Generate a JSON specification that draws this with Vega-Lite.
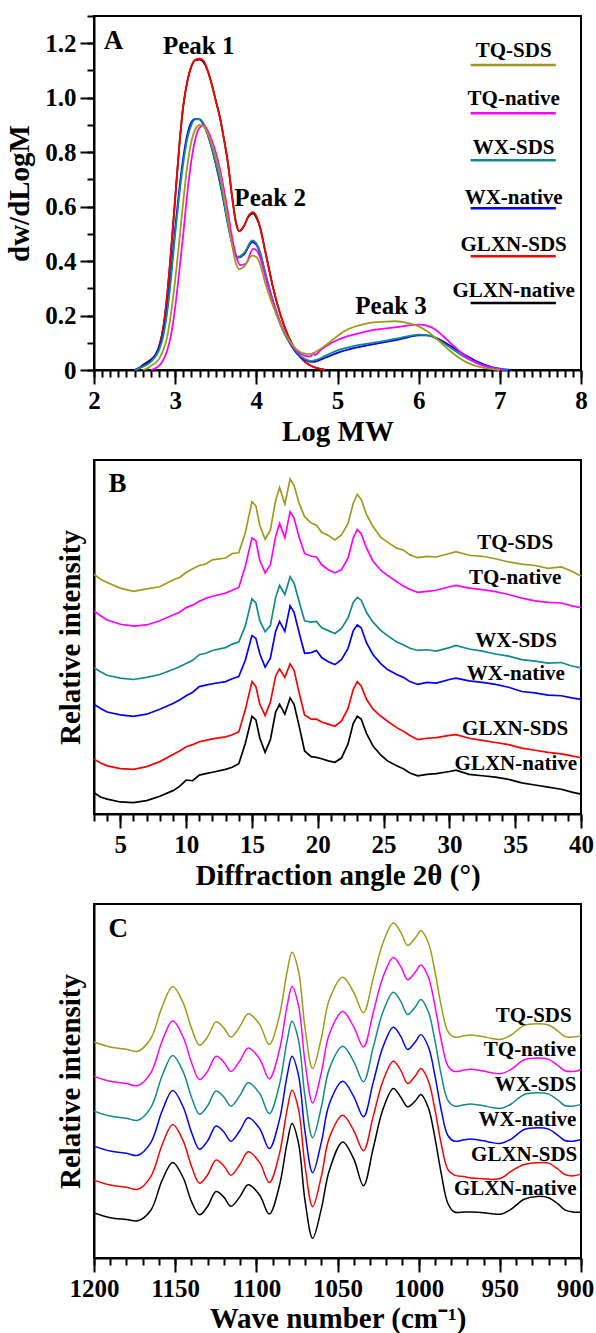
{
"$schema": "https://vega.github.io/schema/vega-lite/v6.json",
"padding": {"left": 4, "top": 14, "right": 4, "bottom": 0},
"spacing": 12,
"config": {
 "font": "Liberation Serif",
 "view": {"stroke": "#000", "strokeWidth": 2},
 "axis": {"grid": false, "domainColor": "#000", "domainWidth": 2, "tickColor": "#000", "tickWidth": 2, "labelFont": "Liberation Serif", "labelFontSize": 25, "labelFontWeight": "bold", "labelColor": "#000", "titleFont": "Liberation Serif", "titleFontSize": 29, "titleFontWeight": "bold", "titleColor": "#000", "labelOverlap": false, "labelFlush": false, "labelBound": false},
 "text": {"font": "Liberation Serif", "fontWeight": "bold", "color": "#000"}
},
"datasets": {
"A": [
{"s":"GN","x":2.5,"y":0},{"s":"GN","x":2.55,"y":0.006},{"s":"GN","x":2.6,"y":0.018},{"s":"GN","x":2.7,"y":0.038},{"s":"GN","x":2.75,"y":0.052},{"s":"GN","x":2.8,"y":0.085},{"s":"GN","x":2.85,"y":0.15},{"s":"GN","x":2.9,"y":0.27},{"s":"GN","x":2.95,"y":0.44},{"s":"GN","x":3.0,"y":0.63},{"s":"GN","x":3.05,"y":0.82},{"s":"GN","x":3.1,"y":0.97},{"s":"GN","x":3.15,"y":1.06},{"s":"GN","x":3.2,"y":1.115},{"s":"GN","x":3.25,"y":1.138},{"s":"GN","x":3.3,"y":1.14},{"s":"GN","x":3.35,"y":1.13},{"s":"GN","x":3.4,"y":1.10},{"s":"GN","x":3.45,"y":1.05},{"s":"GN","x":3.5,"y":0.99},{"s":"GN","x":3.55,"y":0.93},{"s":"GN","x":3.6,"y":0.85},{"s":"GN","x":3.65,"y":0.76},{"s":"GN","x":3.7,"y":0.64},{"s":"GN","x":3.75,"y":0.54},{"s":"GN","x":3.79,"y":0.51},{"s":"GN","x":3.85,"y":0.53},{"s":"GN","x":3.9,"y":0.562},{"s":"GN","x":3.96,"y":0.575},{"s":"GN","x":4.0,"y":0.56},{"s":"GN","x":4.05,"y":0.52},{"s":"GN","x":4.1,"y":0.45},{"s":"GN","x":4.15,"y":0.38},{"s":"GN","x":4.2,"y":0.31},{"s":"GN","x":4.3,"y":0.20},{"s":"GN","x":4.4,"y":0.12},{"s":"GN","x":4.5,"y":0.065},{"s":"GN","x":4.6,"y":0.03},{"s":"GN","x":4.7,"y":0.012},{"s":"GN","x":4.8,"y":0.003},{"s":"GN","x":4.85,"y":0},
{"s":"GS","x":2.5,"y":0},{"s":"GS","x":2.55,"y":0.005},{"s":"GS","x":2.6,"y":0.015},{"s":"GS","x":2.7,"y":0.035},{"s":"GS","x":2.75,"y":0.05},{"s":"GS","x":2.8,"y":0.082},{"s":"GS","x":2.85,"y":0.15},{"s":"GS","x":2.9,"y":0.27},{"s":"GS","x":2.95,"y":0.44},{"s":"GS","x":3.0,"y":0.63},{"s":"GS","x":3.05,"y":0.82},{"s":"GS","x":3.1,"y":0.97},{"s":"GS","x":3.15,"y":1.06},{"s":"GS","x":3.2,"y":1.115},{"s":"GS","x":3.25,"y":1.14},{"s":"GS","x":3.3,"y":1.143},{"s":"GS","x":3.35,"y":1.135},{"s":"GS","x":3.4,"y":1.10},{"s":"GS","x":3.45,"y":1.05},{"s":"GS","x":3.5,"y":0.99},{"s":"GS","x":3.55,"y":0.93},{"s":"GS","x":3.6,"y":0.85},{"s":"GS","x":3.65,"y":0.76},{"s":"GS","x":3.7,"y":0.64},{"s":"GS","x":3.75,"y":0.54},{"s":"GS","x":3.79,"y":0.51},{"s":"GS","x":3.85,"y":0.53},{"s":"GS","x":3.9,"y":0.565},{"s":"GS","x":3.96,"y":0.58},{"s":"GS","x":4.0,"y":0.565},{"s":"GS","x":4.05,"y":0.52},{"s":"GS","x":4.1,"y":0.45},{"s":"GS","x":4.15,"y":0.38},{"s":"GS","x":4.2,"y":0.31},{"s":"GS","x":4.3,"y":0.20},{"s":"GS","x":4.4,"y":0.12},{"s":"GS","x":4.5,"y":0.065},{"s":"GS","x":4.6,"y":0.03},{"s":"GS","x":4.7,"y":0.012},{"s":"GS","x":4.8,"y":0.003},{"s":"GS","x":4.85,"y":0},
{"s":"WN","x":2.5,"y":0},{"s":"WN","x":2.55,"y":0.006},{"s":"WN","x":2.6,"y":0.015},{"s":"WN","x":2.7,"y":0.035},{"s":"WN","x":2.8,"y":0.08},{"s":"WN","x":2.85,"y":0.13},{"s":"WN","x":2.9,"y":0.22},{"s":"WN","x":2.95,"y":0.36},{"s":"WN","x":3.0,"y":0.52},{"s":"WN","x":3.05,"y":0.66},{"s":"WN","x":3.1,"y":0.78},{"s":"WN","x":3.15,"y":0.865},{"s":"WN","x":3.2,"y":0.91},{"s":"WN","x":3.25,"y":0.922},{"s":"WN","x":3.3,"y":0.92},{"s":"WN","x":3.35,"y":0.90},{"s":"WN","x":3.4,"y":0.865},{"s":"WN","x":3.45,"y":0.815},{"s":"WN","x":3.5,"y":0.755},{"s":"WN","x":3.55,"y":0.69},{"s":"WN","x":3.6,"y":0.615},{"s":"WN","x":3.65,"y":0.535},{"s":"WN","x":3.7,"y":0.465},{"s":"WN","x":3.77,"y":0.413},{"s":"WN","x":3.85,"y":0.425},{"s":"WN","x":3.95,"y":0.47},{"s":"WN","x":4.0,"y":0.46},{"s":"WN","x":4.05,"y":0.425},{"s":"WN","x":4.1,"y":0.365},{"s":"WN","x":4.2,"y":0.255},{"s":"WN","x":4.3,"y":0.165},{"s":"WN","x":4.4,"y":0.105},{"s":"WN","x":4.5,"y":0.06},{"s":"WN","x":4.6,"y":0.037},{"s":"WN","x":4.67,"y":0.03},{"s":"WN","x":4.75,"y":0.033},{"s":"WN","x":4.85,"y":0.045},{"s":"WN","x":5.0,"y":0.063},{"s":"WN","x":5.2,"y":0.08},{"s":"WN","x":5.4,"y":0.092},{"s":"WN","x":5.6,"y":0.103},{"s":"WN","x":5.8,"y":0.115},{"s":"WN","x":6.0,"y":0.127},{"s":"WN","x":6.1,"y":0.127},{"s":"WN","x":6.2,"y":0.12},{"s":"WN","x":6.3,"y":0.105},{"s":"WN","x":6.4,"y":0.087},{"s":"WN","x":6.5,"y":0.068},{"s":"WN","x":6.6,"y":0.05},{"s":"WN","x":6.7,"y":0.034},{"s":"WN","x":6.8,"y":0.021},{"s":"WN","x":6.9,"y":0.011},{"s":"WN","x":7.0,"y":0.005},{"s":"WN","x":7.1,"y":0.001},{"s":"WN","x":7.15,"y":0},
{"s":"WS","x":2.5,"y":0},{"s":"WS","x":2.55,"y":0.005},{"s":"WS","x":2.6,"y":0.012},{"s":"WS","x":2.7,"y":0.03},{"s":"WS","x":2.8,"y":0.072},{"s":"WS","x":2.85,"y":0.12},{"s":"WS","x":2.9,"y":0.21},{"s":"WS","x":2.95,"y":0.34},{"s":"WS","x":3.0,"y":0.50},{"s":"WS","x":3.05,"y":0.64},{"s":"WS","x":3.1,"y":0.76},{"s":"WS","x":3.15,"y":0.85},{"s":"WS","x":3.2,"y":0.90},{"s":"WS","x":3.25,"y":0.92},{"s":"WS","x":3.3,"y":0.921},{"s":"WS","x":3.35,"y":0.905},{"s":"WS","x":3.4,"y":0.87},{"s":"WS","x":3.45,"y":0.82},{"s":"WS","x":3.5,"y":0.76},{"s":"WS","x":3.55,"y":0.70},{"s":"WS","x":3.6,"y":0.62},{"s":"WS","x":3.65,"y":0.54},{"s":"WS","x":3.7,"y":0.47},{"s":"WS","x":3.77,"y":0.415},{"s":"WS","x":3.85,"y":0.43},{"s":"WS","x":3.95,"y":0.476},{"s":"WS","x":4.0,"y":0.465},{"s":"WS","x":4.05,"y":0.43},{"s":"WS","x":4.1,"y":0.37},{"s":"WS","x":4.2,"y":0.26},{"s":"WS","x":4.3,"y":0.17},{"s":"WS","x":4.4,"y":0.11},{"s":"WS","x":4.5,"y":0.065},{"s":"WS","x":4.6,"y":0.04},{"s":"WS","x":4.67,"y":0.033},{"s":"WS","x":4.75,"y":0.038},{"s":"WS","x":4.85,"y":0.052},{"s":"WS","x":5.0,"y":0.072},{"s":"WS","x":5.2,"y":0.088},{"s":"WS","x":5.4,"y":0.098},{"s":"WS","x":5.6,"y":0.108},{"s":"WS","x":5.8,"y":0.12},{"s":"WS","x":6.0,"y":0.13},{"s":"WS","x":6.1,"y":0.128},{"s":"WS","x":6.2,"y":0.118},{"s":"WS","x":6.3,"y":0.10},{"s":"WS","x":6.4,"y":0.08},{"s":"WS","x":6.5,"y":0.06},{"s":"WS","x":6.6,"y":0.042},{"s":"WS","x":6.7,"y":0.028},{"s":"WS","x":6.8,"y":0.016},{"s":"WS","x":6.9,"y":0.008},{"s":"WS","x":7.0,"y":0.003},{"s":"WS","x":7.1,"y":0},
{"s":"TN","x":2.7,"y":0},{"s":"TN","x":2.75,"y":0.005},{"s":"TN","x":2.8,"y":0.015},{"s":"TN","x":2.85,"y":0.035},{"s":"TN","x":2.9,"y":0.07},{"s":"TN","x":2.95,"y":0.13},{"s":"TN","x":3.0,"y":0.23},{"s":"TN","x":3.05,"y":0.36},{"s":"TN","x":3.1,"y":0.50},{"s":"TN","x":3.15,"y":0.65},{"s":"TN","x":3.2,"y":0.77},{"s":"TN","x":3.25,"y":0.85},{"s":"TN","x":3.3,"y":0.89},{"s":"TN","x":3.35,"y":0.898},{"s":"TN","x":3.4,"y":0.88},{"s":"TN","x":3.45,"y":0.845},{"s":"TN","x":3.5,"y":0.80},{"s":"TN","x":3.55,"y":0.74},{"s":"TN","x":3.6,"y":0.665},{"s":"TN","x":3.65,"y":0.58},{"s":"TN","x":3.7,"y":0.49},{"s":"TN","x":3.75,"y":0.42},{"s":"TN","x":3.8,"y":0.385},{"s":"TN","x":3.87,"y":0.39},{"s":"TN","x":3.96,"y":0.445},{"s":"TN","x":4.0,"y":0.44},{"s":"TN","x":4.05,"y":0.41},{"s":"TN","x":4.1,"y":0.355},{"s":"TN","x":4.2,"y":0.255},{"s":"TN","x":4.3,"y":0.17},{"s":"TN","x":4.4,"y":0.11},{"s":"TN","x":4.5,"y":0.07},{"s":"TN","x":4.6,"y":0.052},{"s":"TN","x":4.67,"y":0.05},{"s":"TN","x":4.7,"y":0.062},{"s":"TN","x":4.72,"y":0.055},{"s":"TN","x":4.8,"y":0.075},{"s":"TN","x":4.9,"y":0.095},{"s":"TN","x":5.0,"y":0.11},{"s":"TN","x":5.2,"y":0.13},{"s":"TN","x":5.4,"y":0.145},{"s":"TN","x":5.6,"y":0.153},{"s":"TN","x":5.8,"y":0.16},{"s":"TN","x":5.9,"y":0.165},{"s":"TN","x":6.0,"y":0.167},{"s":"TN","x":6.1,"y":0.163},{"s":"TN","x":6.2,"y":0.15},{"s":"TN","x":6.3,"y":0.125},{"s":"TN","x":6.4,"y":0.097},{"s":"TN","x":6.5,"y":0.07},{"s":"TN","x":6.6,"y":0.046},{"s":"TN","x":6.7,"y":0.028},{"s":"TN","x":6.8,"y":0.016},{"s":"TN","x":6.9,"y":0.008},{"s":"TN","x":7.0,"y":0.003},{"s":"TN","x":7.05,"y":0},
{"s":"TS","x":2.6,"y":0},{"s":"TS","x":2.65,"y":0.005},{"s":"TS","x":2.7,"y":0.015},{"s":"TS","x":2.8,"y":0.04},{"s":"TS","x":2.85,"y":0.07},{"s":"TS","x":2.9,"y":0.12},{"s":"TS","x":2.95,"y":0.21},{"s":"TS","x":3.0,"y":0.33},{"s":"TS","x":3.05,"y":0.47},{"s":"TS","x":3.1,"y":0.62},{"s":"TS","x":3.15,"y":0.75},{"s":"TS","x":3.2,"y":0.84},{"s":"TS","x":3.25,"y":0.885},{"s":"TS","x":3.3,"y":0.90},{"s":"TS","x":3.35,"y":0.895},{"s":"TS","x":3.4,"y":0.87},{"s":"TS","x":3.45,"y":0.83},{"s":"TS","x":3.5,"y":0.78},{"s":"TS","x":3.55,"y":0.72},{"s":"TS","x":3.6,"y":0.64},{"s":"TS","x":3.65,"y":0.55},{"s":"TS","x":3.7,"y":0.46},{"s":"TS","x":3.75,"y":0.39},{"s":"TS","x":3.79,"y":0.37},{"s":"TS","x":3.85,"y":0.38},{"s":"TS","x":3.95,"y":0.42},{"s":"TS","x":4.0,"y":0.415},{"s":"TS","x":4.05,"y":0.385},{"s":"TS","x":4.1,"y":0.33},{"s":"TS","x":4.2,"y":0.24},{"s":"TS","x":4.3,"y":0.165},{"s":"TS","x":4.4,"y":0.11},{"s":"TS","x":4.5,"y":0.075},{"s":"TS","x":4.6,"y":0.06},{"s":"TS","x":4.67,"y":0.058},{"s":"TS","x":4.75,"y":0.07},{"s":"TS","x":4.85,"y":0.09},{"s":"TS","x":5.0,"y":0.125},{"s":"TS","x":5.1,"y":0.145},{"s":"TS","x":5.2,"y":0.158},{"s":"TS","x":5.3,"y":0.167},{"s":"TS","x":5.4,"y":0.173},{"s":"TS","x":5.5,"y":0.176},{"s":"TS","x":5.6,"y":0.178},{"s":"TS","x":5.7,"y":0.179},{"s":"TS","x":5.8,"y":0.177},{"s":"TS","x":5.9,"y":0.17},{"s":"TS","x":6.0,"y":0.16},{"s":"TS","x":6.1,"y":0.143},{"s":"TS","x":6.2,"y":0.12},{"s":"TS","x":6.3,"y":0.093},{"s":"TS","x":6.4,"y":0.067},{"s":"TS","x":6.5,"y":0.044},{"s":"TS","x":6.6,"y":0.027},{"s":"TS","x":6.7,"y":0.015},{"s":"TS","x":6.8,"y":0.008},{"s":"TS","x":6.9,"y":0.003},{"s":"TS","x":7.0,"y":0}
],
"legA": [
{"s":"TS","t":"TQ-SDS","x1":6.64,"x2":7.69,"xt":7.17,"yl":1.12,"yt":1.17},
{"s":"TN","t":"TQ-native","x1":6.64,"x2":7.69,"xt":7.17,"yl":0.943,"yt":0.994},
{"s":"WS","t":"WX-SDS","x1":6.64,"x2":7.69,"xt":7.17,"yl":0.77,"yt":0.815},
{"s":"WN","t":"WX-native","x1":6.64,"x2":7.69,"xt":7.17,"yl":0.594,"yt":0.63},
{"s":"GS","t":"GLXN-SDS","x1":6.64,"x2":7.69,"xt":7.17,"yl":0.418,"yt":0.46},
{"s":"GN","t":"GLXN-native","x1":6.64,"x2":7.69,"xt":7.17,"yl":0.246,"yt":0.29}
],
"peaks": [
{"t":"Peak 1","x":3.29,"y":1.19},{"t":"Peak 2","x":4.17,"y":0.63},{"t":"Peak 3","x":5.66,"y":0.235}
],
"B": [
{"s":"GN","x":3,"y":6.0},{"s":"GN","x":3.5,"y":4.8},{"s":"GN","x":4,"y":4.2},{"s":"GN","x":5,"y":3.4},{"s":"GN","x":6,"y":3.2},{"s":"GN","x":7,"y":3.8},{"s":"GN","x":8,"y":5.0},{"s":"GN","x":9,"y":6.6},{"s":"GN","x":9.5,"y":7.8},{"s":"GN","x":10,"y":9.6},{"s":"GN","x":10.5,"y":9.4},{"s":"GN","x":11,"y":11.0},{"s":"GN","x":11.5,"y":11.4},{"s":"GN","x":12,"y":11.8},{"s":"GN","x":13,"y":12.6},{"s":"GN","x":13.5,"y":13.2},{"s":"GN","x":14,"y":14.2},{"s":"GN","x":14.5,"y":20.0},{"s":"GN","x":15,"y":27.6},{"s":"GN","x":15.3,"y":26.6},{"s":"GN","x":15.6,"y":21.4},{"s":"GN","x":16,"y":17.4},{"s":"GN","x":16.4,"y":21.0},{"s":"GN","x":16.8,"y":28.8},{"s":"GN","x":17.1,"y":31.0},{"s":"GN","x":17.5,"y":28.2},{"s":"GN","x":17.9,"y":32.8},{"s":"GN","x":18.2,"y":31.0},{"s":"GN","x":18.6,"y":24.6},{"s":"GN","x":19,"y":17.8},{"s":"GN","x":19.5,"y":16.2},{"s":"GN","x":19.9,"y":16.0},{"s":"GN","x":20.3,"y":15.6},{"s":"GN","x":20.8,"y":15.0},{"s":"GN","x":21.3,"y":14.6},{"s":"GN","x":21.8,"y":15.8},{"s":"GN","x":22.3,"y":19.8},{"s":"GN","x":22.7,"y":25.6},{"s":"GN","x":23,"y":27.6},{"s":"GN","x":23.3,"y":26.8},{"s":"GN","x":23.7,"y":22.8},{"s":"GN","x":24.2,"y":19.2},{"s":"GN","x":24.8,"y":16.6},{"s":"GN","x":25.3,"y":15.0},{"s":"GN","x":26,"y":13.6},{"s":"GN","x":26.5,"y":12.8},{"s":"GN","x":27,"y":11.6},{"s":"GN","x":27.6,"y":10.8},{"s":"GN","x":28.3,"y":11.2},{"s":"GN","x":29,"y":11.4},{"s":"GN","x":30,"y":12.0},{"s":"GN","x":30.5,"y":12.4},{"s":"GN","x":31.5,"y":11.2},{"s":"GN","x":32.5,"y":10.8},{"s":"GN","x":33.5,"y":10.4},{"s":"GN","x":34.5,"y":9.8},{"s":"GN","x":35.5,"y":8.8},{"s":"GN","x":36.5,"y":8.2},{"s":"GN","x":37.5,"y":7.6},{"s":"GN","x":38.5,"y":7.0},{"s":"GN","x":39.3,"y":6.2},{"s":"GN","x":40,"y":5.6},
{"s":"GS","x":3,"y":15.5},{"s":"GS","x":3.5,"y":14.4},{"s":"GS","x":4,"y":13.6},{"s":"GS","x":5,"y":12.8},{"s":"GS","x":6,"y":12.6},{"s":"GS","x":7,"y":13.4},{"s":"GS","x":8,"y":14.8},{"s":"GS","x":9,"y":16.8},{"s":"GS","x":9.5,"y":17.8},{"s":"GS","x":10,"y":19.0},{"s":"GS","x":10.5,"y":19.6},{"s":"GS","x":11,"y":20.4},{"s":"GS","x":11.5,"y":20.8},{"s":"GS","x":12,"y":21.2},{"s":"GS","x":13,"y":21.8},{"s":"GS","x":13.5,"y":22.4},{"s":"GS","x":14,"y":23.2},{"s":"GS","x":14.5,"y":29.5},{"s":"GS","x":15,"y":37.4},{"s":"GS","x":15.3,"y":36.0},{"s":"GS","x":15.6,"y":31.0},{"s":"GS","x":16,"y":27.8},{"s":"GS","x":16.4,"y":31.6},{"s":"GS","x":16.8,"y":39.0},{"s":"GS","x":17.1,"y":41.0},{"s":"GS","x":17.5,"y":38.6},{"s":"GS","x":17.9,"y":42.4},{"s":"GS","x":18.2,"y":40.6},{"s":"GS","x":18.6,"y":34.0},{"s":"GS","x":19,"y":28.0},{"s":"GS","x":19.5,"y":26.8},{"s":"GS","x":19.9,"y":26.8},{"s":"GS","x":20.3,"y":26.0},{"s":"GS","x":20.8,"y":25.4},{"s":"GS","x":21.3,"y":24.8},{"s":"GS","x":21.8,"y":26.2},{"s":"GS","x":22.3,"y":29.8},{"s":"GS","x":22.7,"y":35.2},{"s":"GS","x":23,"y":37.4},{"s":"GS","x":23.3,"y":36.2},{"s":"GS","x":23.7,"y":32.4},{"s":"GS","x":24.2,"y":29.6},{"s":"GS","x":24.8,"y":27.6},{"s":"GS","x":25.3,"y":26.2},{"s":"GS","x":26,"y":24.4},{"s":"GS","x":26.5,"y":23.4},{"s":"GS","x":27,"y":22.2},{"s":"GS","x":27.6,"y":21.0},{"s":"GS","x":28.3,"y":21.4},{"s":"GS","x":29,"y":21.6},{"s":"GS","x":30,"y":22.2},{"s":"GS","x":30.5,"y":22.4},{"s":"GS","x":31.5,"y":21.4},{"s":"GS","x":32.5,"y":20.8},{"s":"GS","x":33.5,"y":20.2},{"s":"GS","x":34.5,"y":19.6},{"s":"GS","x":35.5,"y":18.6},{"s":"GS","x":36.5,"y":18.0},{"s":"GS","x":37.5,"y":17.4},{"s":"GS","x":38.5,"y":17.0},{"s":"GS","x":39.3,"y":16.4},{"s":"GS","x":40,"y":15.9},
{"s":"WN","x":3,"y":31.0},{"s":"WN","x":3.5,"y":29.8},{"s":"WN","x":4,"y":28.8},{"s":"WN","x":5,"y":28.0},{"s":"WN","x":6,"y":27.6},{"s":"WN","x":7,"y":28.2},{"s":"WN","x":8,"y":29.6},{"s":"WN","x":9,"y":31.2},{"s":"WN","x":9.5,"y":32.2},{"s":"WN","x":10,"y":33.4},{"s":"WN","x":10.5,"y":34.4},{"s":"WN","x":11,"y":36.0},{"s":"WN","x":11.5,"y":36.4},{"s":"WN","x":12,"y":36.8},{"s":"WN","x":13,"y":37.4},{"s":"WN","x":13.5,"y":38.2},{"s":"WN","x":14,"y":38.8},{"s":"WN","x":14.5,"y":43.5},{"s":"WN","x":15,"y":50.4},{"s":"WN","x":15.3,"y":49.6},{"s":"WN","x":15.6,"y":45.2},{"s":"WN","x":16,"y":41.5},{"s":"WN","x":16.4,"y":44.0},{"s":"WN","x":16.8,"y":51.6},{"s":"WN","x":17.1,"y":54.4},{"s":"WN","x":17.5,"y":51.6},{"s":"WN","x":17.9,"y":58.8},{"s":"WN","x":18.2,"y":57.0},{"s":"WN","x":18.6,"y":51.0},{"s":"WN","x":19,"y":45.4},{"s":"WN","x":19.5,"y":45.6},{"s":"WN","x":19.9,"y":46.2},{"s":"WN","x":20.3,"y":44.2},{"s":"WN","x":20.8,"y":43.0},{"s":"WN","x":21.3,"y":42.2},{"s":"WN","x":21.8,"y":43.6},{"s":"WN","x":22.3,"y":46.8},{"s":"WN","x":22.7,"y":51.8},{"s":"WN","x":23,"y":53.4},{"s":"WN","x":23.3,"y":52.6},{"s":"WN","x":23.7,"y":48.4},{"s":"WN","x":24.2,"y":45.0},{"s":"WN","x":24.8,"y":42.4},{"s":"WN","x":25.3,"y":40.8},{"s":"WN","x":26,"y":39.4},{"s":"WN","x":26.5,"y":38.6},{"s":"WN","x":27,"y":37.4},{"s":"WN","x":27.6,"y":36.6},{"s":"WN","x":28.3,"y":37.2},{"s":"WN","x":29,"y":37.0},{"s":"WN","x":30,"y":38.0},{"s":"WN","x":30.5,"y":38.4},{"s":"WN","x":31.5,"y":37.6},{"s":"WN","x":32.5,"y":37.2},{"s":"WN","x":33.5,"y":36.6},{"s":"WN","x":34.5,"y":35.8},{"s":"WN","x":35.5,"y":34.6},{"s":"WN","x":36.5,"y":34.2},{"s":"WN","x":37.5,"y":33.6},{"s":"WN","x":38.5,"y":33.4},{"s":"WN","x":39.3,"y":32.8},{"s":"WN","x":40,"y":32.4},
{"s":"WS","x":3,"y":41.3},{"s":"WS","x":3.5,"y":40.2},{"s":"WS","x":4,"y":39.2},{"s":"WS","x":5,"y":38.4},{"s":"WS","x":6,"y":38.0},{"s":"WS","x":7,"y":38.6},{"s":"WS","x":8,"y":39.4},{"s":"WS","x":9,"y":40.8},{"s":"WS","x":9.5,"y":41.6},{"s":"WS","x":10,"y":42.5},{"s":"WS","x":10.5,"y":43.4},{"s":"WS","x":11,"y":45.0},{"s":"WS","x":11.5,"y":45.4},{"s":"WS","x":12,"y":46.2},{"s":"WS","x":13,"y":47.0},{"s":"WS","x":13.5,"y":48.0},{"s":"WS","x":14,"y":48.6},{"s":"WS","x":14.5,"y":53.2},{"s":"WS","x":15,"y":60.8},{"s":"WS","x":15.3,"y":59.6},{"s":"WS","x":15.6,"y":54.6},{"s":"WS","x":16,"y":51.5},{"s":"WS","x":16.4,"y":53.2},{"s":"WS","x":16.8,"y":61.2},{"s":"WS","x":17.1,"y":64.6},{"s":"WS","x":17.5,"y":62.0},{"s":"WS","x":17.9,"y":67.0},{"s":"WS","x":18.2,"y":65.2},{"s":"WS","x":18.6,"y":59.8},{"s":"WS","x":19,"y":54.6},{"s":"WS","x":19.5,"y":54.2},{"s":"WS","x":19.9,"y":54.4},{"s":"WS","x":20.3,"y":52.6},{"s":"WS","x":20.8,"y":51.8},{"s":"WS","x":21.3,"y":51.0},{"s":"WS","x":21.8,"y":52.4},{"s":"WS","x":22.3,"y":55.4},{"s":"WS","x":22.7,"y":59.8},{"s":"WS","x":23,"y":61.2},{"s":"WS","x":23.3,"y":60.4},{"s":"WS","x":23.7,"y":57.0},{"s":"WS","x":24.2,"y":54.2},{"s":"WS","x":24.8,"y":51.8},{"s":"WS","x":25.3,"y":50.4},{"s":"WS","x":26,"y":48.6},{"s":"WS","x":26.5,"y":47.8},{"s":"WS","x":27,"y":46.8},{"s":"WS","x":27.6,"y":46.2},{"s":"WS","x":28.3,"y":46.4},{"s":"WS","x":29,"y":46.0},{"s":"WS","x":30,"y":47.0},{"s":"WS","x":30.5,"y":47.6},{"s":"WS","x":31.5,"y":46.6},{"s":"WS","x":32.5,"y":46.0},{"s":"WS","x":33.5,"y":45.2},{"s":"WS","x":34.5,"y":44.6},{"s":"WS","x":35.5,"y":43.6},{"s":"WS","x":36.5,"y":43.2},{"s":"WS","x":37.5,"y":42.6},{"s":"WS","x":38.5,"y":42.8},{"s":"WS","x":39.3,"y":41.8},{"s":"WS","x":40,"y":41.3},
{"s":"TN","x":3,"y":57.3},{"s":"TN","x":3.5,"y":56.0},{"s":"TN","x":4,"y":54.8},{"s":"TN","x":5,"y":53.6},{"s":"TN","x":6,"y":53.1},{"s":"TN","x":7,"y":53.4},{"s":"TN","x":8,"y":54.6},{"s":"TN","x":9,"y":56.2},{"s":"TN","x":9.5,"y":57.0},{"s":"TN","x":10,"y":58.3},{"s":"TN","x":10.5,"y":59.0},{"s":"TN","x":11,"y":60.1},{"s":"TN","x":11.5,"y":60.9},{"s":"TN","x":12,"y":61.5},{"s":"TN","x":13,"y":62.4},{"s":"TN","x":13.5,"y":63.2},{"s":"TN","x":14,"y":64.0},{"s":"TN","x":14.5,"y":70.0},{"s":"TN","x":15,"y":78.0},{"s":"TN","x":15.3,"y":77.2},{"s":"TN","x":15.6,"y":71.6},{"s":"TN","x":16,"y":68.1},{"s":"TN","x":16.4,"y":70.4},{"s":"TN","x":16.8,"y":78.4},{"s":"TN","x":17.1,"y":82.1},{"s":"TN","x":17.5,"y":78.0},{"s":"TN","x":17.9,"y":85.4},{"s":"TN","x":18.2,"y":83.6},{"s":"TN","x":18.6,"y":78.0},{"s":"TN","x":19,"y":73.6},{"s":"TN","x":19.5,"y":72.8},{"s":"TN","x":19.9,"y":72.6},{"s":"TN","x":20.3,"y":70.4},{"s":"TN","x":20.8,"y":69.0},{"s":"TN","x":21.3,"y":68.1},{"s":"TN","x":21.8,"y":69.0},{"s":"TN","x":22.3,"y":72.3},{"s":"TN","x":22.7,"y":78.0},{"s":"TN","x":23,"y":80.4},{"s":"TN","x":23.3,"y":79.2},{"s":"TN","x":23.7,"y":75.2},{"s":"TN","x":24.2,"y":71.4},{"s":"TN","x":24.8,"y":68.8},{"s":"TN","x":25.3,"y":67.4},{"s":"TN","x":26,"y":65.6},{"s":"TN","x":26.5,"y":64.4},{"s":"TN","x":27,"y":63.4},{"s":"TN","x":27.6,"y":62.6},{"s":"TN","x":28.3,"y":62.9},{"s":"TN","x":29,"y":63.2},{"s":"TN","x":30,"y":64.2},{"s":"TN","x":30.5,"y":64.6},{"s":"TN","x":31.5,"y":63.8},{"s":"TN","x":32.5,"y":63.4},{"s":"TN","x":33.5,"y":62.8},{"s":"TN","x":34.5,"y":62.0},{"s":"TN","x":35.5,"y":61.0},{"s":"TN","x":36.5,"y":60.2},{"s":"TN","x":37.5,"y":59.8},{"s":"TN","x":38.5,"y":59.6},{"s":"TN","x":39.3,"y":58.8},{"s":"TN","x":40,"y":58.3},
{"s":"TS","x":3,"y":67.7},{"s":"TS","x":3.5,"y":66.3},{"s":"TS","x":4,"y":65.4},{"s":"TS","x":5,"y":63.8},{"s":"TS","x":6,"y":62.9},{"s":"TS","x":7,"y":63.6},{"s":"TS","x":8,"y":64.2},{"s":"TS","x":9,"y":66.1},{"s":"TS","x":9.5,"y":66.8},{"s":"TS","x":10,"y":68.2},{"s":"TS","x":10.5,"y":69.3},{"s":"TS","x":11,"y":70.2},{"s":"TS","x":11.5,"y":70.6},{"s":"TS","x":12,"y":71.8},{"s":"TS","x":13,"y":72.3},{"s":"TS","x":13.5,"y":73.6},{"s":"TS","x":14,"y":73.8},{"s":"TS","x":14.5,"y":79.5},{"s":"TS","x":15,"y":88.2},{"s":"TS","x":15.3,"y":87.0},{"s":"TS","x":15.6,"y":81.5},{"s":"TS","x":16,"y":77.6},{"s":"TS","x":16.4,"y":80.2},{"s":"TS","x":16.8,"y":88.6},{"s":"TS","x":17.1,"y":92.2},{"s":"TS","x":17.5,"y":87.5},{"s":"TS","x":17.9,"y":94.6},{"s":"TS","x":18.2,"y":92.8},{"s":"TS","x":18.6,"y":87.6},{"s":"TS","x":19,"y":84.0},{"s":"TS","x":19.5,"y":82.2},{"s":"TS","x":19.9,"y":81.6},{"s":"TS","x":20.3,"y":79.6},{"s":"TS","x":20.8,"y":78.7},{"s":"TS","x":21.3,"y":77.4},{"s":"TS","x":21.8,"y":78.8},{"s":"TS","x":22.3,"y":82.1},{"s":"TS","x":22.7,"y":87.8},{"s":"TS","x":23,"y":90.3},{"s":"TS","x":23.3,"y":88.9},{"s":"TS","x":23.7,"y":84.6},{"s":"TS","x":24.2,"y":81.2},{"s":"TS","x":24.8,"y":78.1},{"s":"TS","x":25.3,"y":76.8},{"s":"TS","x":26,"y":75.1},{"s":"TS","x":26.5,"y":74.6},{"s":"TS","x":27,"y":73.2},{"s":"TS","x":27.6,"y":72.4},{"s":"TS","x":28.3,"y":72.8},{"s":"TS","x":29,"y":72.6},{"s":"TS","x":30,"y":73.6},{"s":"TS","x":30.5,"y":74.1},{"s":"TS","x":31.5,"y":73.1},{"s":"TS","x":32.5,"y":72.8},{"s":"TS","x":33.5,"y":72.1},{"s":"TS","x":34.5,"y":71.2},{"s":"TS","x":35.5,"y":70.6},{"s":"TS","x":36.5,"y":70.2},{"s":"TS","x":37.5,"y":69.4},{"s":"TS","x":38.5,"y":69.8},{"s":"TS","x":39.3,"y":68.6},{"s":"TS","x":40,"y":67.2}
],
"labB": [
{"t":"TQ-SDS","x":35.0,"y":76.6},{"t":"TQ-native","x":35.0,"y":66.8},{"t":"WX-SDS","x":35.07,"y":48.9},{"t":"WX-native","x":35.05,"y":39.5},{"t":"GLXN-SDS","x":35.0,"y":23.9},{"t":"GLXN-native","x":35.05,"y":14.0}
],
"C": [
{"s":"GN","x":1200,"y":12.7},{"s":"GN","x":1190,"y":11.4},{"s":"GN","x":1180,"y":10.9},{"s":"GN","x":1173,"y":10.5},{"s":"GN","x":1165,"y":13.5},{"s":"GN","x":1158,"y":22.0},{"s":"GN","x":1151.5,"y":27.0},{"s":"GN","x":1145,"y":22.6},{"s":"GN","x":1140,"y":16.0},{"s":"GN","x":1135,"y":12.2},{"s":"GN","x":1130,"y":14.6},{"s":"GN","x":1124.8,"y":18.8},{"s":"GN","x":1120,"y":17.2},{"s":"GN","x":1115.6,"y":14.6},{"s":"GN","x":1110,"y":17.4},{"s":"GN","x":1105,"y":20.7},{"s":"GN","x":1098,"y":17.8},{"s":"GN","x":1092,"y":12.4},{"s":"GN","x":1086,"y":20.0},{"s":"GN","x":1081,"y":32.6},{"s":"GN","x":1078,"y":38.0},{"s":"GN","x":1074,"y":32.4},{"s":"GN","x":1070,"y":16.2},{"s":"GN","x":1065.3,"y":5.6},{"s":"GN","x":1060,"y":13.8},{"s":"GN","x":1055,"y":24.8},{"s":"GN","x":1046.8,"y":32.8},{"s":"GN","x":1040,"y":28.0},{"s":"GN","x":1034,"y":20.4},{"s":"GN","x":1028,"y":31.0},{"s":"GN","x":1022,"y":42.0},{"s":"GN","x":1015.6,"y":47.9},{"s":"GN","x":1011,"y":45.4},{"s":"GN","x":1006.8,"y":42.7},{"s":"GN","x":1002,"y":44.4},{"s":"GN","x":998.6,"y":46.2},{"s":"GN","x":994,"y":42.4},{"s":"GN","x":990,"y":34.0},{"s":"GN","x":986,"y":23.6},{"s":"GN","x":982,"y":15.4},{"s":"GN","x":978,"y":13.0},{"s":"GN","x":972,"y":13.0},{"s":"GN","x":968,"y":13.0},{"s":"GN","x":960,"y":12.8},{"s":"GN","x":955,"y":12.5},{"s":"GN","x":949,"y":12.4},{"s":"GN","x":943,"y":13.8},{"s":"GN","x":935,"y":16.6},{"s":"GN","x":927,"y":17.4},{"s":"GN","x":920,"y":17.0},{"s":"GN","x":914,"y":15.2},{"s":"GN","x":910,"y":13.6},{"s":"GN","x":905,"y":13.0},{"s":"GN","x":900,"y":13.0},
{"s":"GS","x":1200,"y":22.0},{"s":"GS","x":1190,"y":20.6},{"s":"GS","x":1180,"y":20.0},{"s":"GS","x":1173,"y":19.4},{"s":"GS","x":1165,"y":23.0},{"s":"GS","x":1158,"y":32.0},{"s":"GS","x":1151.5,"y":37.7},{"s":"GS","x":1145,"y":33.0},{"s":"GS","x":1140,"y":26.0},{"s":"GS","x":1135,"y":21.1},{"s":"GS","x":1130,"y":23.5},{"s":"GS","x":1124.8,"y":27.7},{"s":"GS","x":1120,"y":26.0},{"s":"GS","x":1115.6,"y":23.4},{"s":"GS","x":1110,"y":26.5},{"s":"GS","x":1105,"y":30.0},{"s":"GS","x":1098,"y":27.0},{"s":"GS","x":1092,"y":21.3},{"s":"GS","x":1086,"y":29.0},{"s":"GS","x":1081,"y":42.0},{"s":"GS","x":1078,"y":47.4},{"s":"GS","x":1074,"y":42.0},{"s":"GS","x":1070,"y":26.0},{"s":"GS","x":1065.3,"y":14.5},{"s":"GS","x":1060,"y":23.0},{"s":"GS","x":1055,"y":34.0},{"s":"GS","x":1046.8,"y":40.3},{"s":"GS","x":1040,"y":36.0},{"s":"GS","x":1034,"y":30.3},{"s":"GS","x":1028,"y":40.0},{"s":"GS","x":1022,"y":50.0},{"s":"GS","x":1015.6,"y":55.6},{"s":"GS","x":1011,"y":53.0},{"s":"GS","x":1006.8,"y":49.3},{"s":"GS","x":1002,"y":51.5},{"s":"GS","x":998.6,"y":53.5},{"s":"GS","x":994,"y":50.0},{"s":"GS","x":990,"y":42.0},{"s":"GS","x":986,"y":32.0},{"s":"GS","x":982,"y":25.0},{"s":"GS","x":978,"y":23.4},{"s":"GS","x":972,"y":23.0},{"s":"GS","x":968,"y":22.6},{"s":"GS","x":960,"y":22.4},{"s":"GS","x":955,"y":22.2},{"s":"GS","x":949,"y":22.6},{"s":"GS","x":943,"y":24.5},{"s":"GS","x":935,"y":26.4},{"s":"GS","x":927,"y":26.9},{"s":"GS","x":920,"y":26.8},{"s":"GS","x":914,"y":25.0},{"s":"GS","x":910,"y":23.6},{"s":"GS","x":905,"y":23.2},{"s":"GS","x":900,"y":23.7},
{"s":"WN","x":1200,"y":31.6},{"s":"WN","x":1190,"y":30.2},{"s":"WN","x":1180,"y":29.6},{"s":"WN","x":1173,"y":29.0},{"s":"WN","x":1165,"y":32.6},{"s":"WN","x":1158,"y":41.6},{"s":"WN","x":1151.5,"y":47.3},{"s":"WN","x":1145,"y":42.6},{"s":"WN","x":1140,"y":35.6},{"s":"WN","x":1135,"y":30.7},{"s":"WN","x":1130,"y":33.1},{"s":"WN","x":1124.8,"y":37.3},{"s":"WN","x":1120,"y":35.6},{"s":"WN","x":1115.6,"y":33.0},{"s":"WN","x":1110,"y":36.1},{"s":"WN","x":1105,"y":39.6},{"s":"WN","x":1098,"y":36.6},{"s":"WN","x":1092,"y":30.9},{"s":"WN","x":1086,"y":38.6},{"s":"WN","x":1081,"y":51.6},{"s":"WN","x":1078,"y":57.0},{"s":"WN","x":1074,"y":51.6},{"s":"WN","x":1070,"y":35.6},{"s":"WN","x":1065.3,"y":24.1},{"s":"WN","x":1060,"y":32.6},{"s":"WN","x":1055,"y":43.6},{"s":"WN","x":1046.8,"y":49.9},{"s":"WN","x":1040,"y":45.6},{"s":"WN","x":1034,"y":39.9},{"s":"WN","x":1028,"y":49.6},{"s":"WN","x":1022,"y":59.6},{"s":"WN","x":1015.6,"y":65.2},{"s":"WN","x":1011,"y":62.6},{"s":"WN","x":1006.8,"y":58.9},{"s":"WN","x":1002,"y":61.1},{"s":"WN","x":998.6,"y":63.1},{"s":"WN","x":994,"y":59.6},{"s":"WN","x":990,"y":51.6},{"s":"WN","x":986,"y":41.6},{"s":"WN","x":982,"y":34.6},{"s":"WN","x":978,"y":33.0},{"s":"WN","x":972,"y":33.4},{"s":"WN","x":968,"y":33.6},{"s":"WN","x":960,"y":33.1},{"s":"WN","x":955,"y":32.6},{"s":"WN","x":949,"y":32.4},{"s":"WN","x":943,"y":33.6},{"s":"WN","x":935,"y":36.3},{"s":"WN","x":927,"y":36.8},{"s":"WN","x":920,"y":36.4},{"s":"WN","x":914,"y":34.6},{"s":"WN","x":910,"y":33.2},{"s":"WN","x":905,"y":33.0},{"s":"WN","x":900,"y":33.5},
{"s":"WS","x":1200,"y":41.5},{"s":"WS","x":1190,"y":40.1},{"s":"WS","x":1180,"y":39.5},{"s":"WS","x":1173,"y":38.9},{"s":"WS","x":1165,"y":42.5},{"s":"WS","x":1158,"y":51.5},{"s":"WS","x":1151.5,"y":57.2},{"s":"WS","x":1145,"y":52.5},{"s":"WS","x":1140,"y":45.5},{"s":"WS","x":1135,"y":40.6},{"s":"WS","x":1130,"y":43.0},{"s":"WS","x":1124.8,"y":47.2},{"s":"WS","x":1120,"y":45.5},{"s":"WS","x":1115.6,"y":42.9},{"s":"WS","x":1110,"y":46.0},{"s":"WS","x":1105,"y":49.5},{"s":"WS","x":1098,"y":46.5},{"s":"WS","x":1092,"y":40.8},{"s":"WS","x":1086,"y":48.5},{"s":"WS","x":1081,"y":61.5},{"s":"WS","x":1078,"y":66.9},{"s":"WS","x":1074,"y":61.5},{"s":"WS","x":1070,"y":45.5},{"s":"WS","x":1065.3,"y":34.0},{"s":"WS","x":1060,"y":42.5},{"s":"WS","x":1055,"y":53.5},{"s":"WS","x":1046.8,"y":59.8},{"s":"WS","x":1040,"y":55.5},{"s":"WS","x":1034,"y":49.8},{"s":"WS","x":1028,"y":59.5},{"s":"WS","x":1022,"y":69.5},{"s":"WS","x":1015.6,"y":75.1},{"s":"WS","x":1011,"y":72.5},{"s":"WS","x":1006.8,"y":68.8},{"s":"WS","x":1002,"y":71.0},{"s":"WS","x":998.6,"y":73.0},{"s":"WS","x":994,"y":69.5},{"s":"WS","x":990,"y":61.5},{"s":"WS","x":986,"y":51.5},{"s":"WS","x":982,"y":44.5},{"s":"WS","x":978,"y":42.9},{"s":"WS","x":972,"y":43.3},{"s":"WS","x":968,"y":43.5},{"s":"WS","x":960,"y":43.0},{"s":"WS","x":955,"y":42.5},{"s":"WS","x":949,"y":42.3},{"s":"WS","x":943,"y":43.5},{"s":"WS","x":935,"y":46.2},{"s":"WS","x":927,"y":46.7},{"s":"WS","x":920,"y":46.3},{"s":"WS","x":914,"y":44.5},{"s":"WS","x":910,"y":43.1},{"s":"WS","x":905,"y":42.9},{"s":"WS","x":900,"y":43.4},
{"s":"TN","x":1200,"y":51.3},{"s":"TN","x":1190,"y":49.9},{"s":"TN","x":1180,"y":49.3},{"s":"TN","x":1173,"y":48.7},{"s":"TN","x":1165,"y":52.3},{"s":"TN","x":1158,"y":61.3},{"s":"TN","x":1151.5,"y":67.0},{"s":"TN","x":1145,"y":62.3},{"s":"TN","x":1140,"y":55.3},{"s":"TN","x":1135,"y":50.4},{"s":"TN","x":1130,"y":52.8},{"s":"TN","x":1124.8,"y":57.0},{"s":"TN","x":1120,"y":55.3},{"s":"TN","x":1115.6,"y":52.7},{"s":"TN","x":1110,"y":55.8},{"s":"TN","x":1105,"y":59.3},{"s":"TN","x":1098,"y":56.3},{"s":"TN","x":1092,"y":50.6},{"s":"TN","x":1086,"y":58.3},{"s":"TN","x":1081,"y":71.3},{"s":"TN","x":1078,"y":76.7},{"s":"TN","x":1074,"y":71.3},{"s":"TN","x":1070,"y":55.3},{"s":"TN","x":1065.3,"y":43.8},{"s":"TN","x":1060,"y":52.3},{"s":"TN","x":1055,"y":63.3},{"s":"TN","x":1046.8,"y":69.6},{"s":"TN","x":1040,"y":65.3},{"s":"TN","x":1034,"y":59.6},{"s":"TN","x":1028,"y":69.3},{"s":"TN","x":1022,"y":79.3},{"s":"TN","x":1015.6,"y":84.9},{"s":"TN","x":1011,"y":82.3},{"s":"TN","x":1006.8,"y":78.6},{"s":"TN","x":1002,"y":80.8},{"s":"TN","x":998.6,"y":82.8},{"s":"TN","x":994,"y":79.3},{"s":"TN","x":990,"y":71.3},{"s":"TN","x":986,"y":61.3},{"s":"TN","x":982,"y":54.3},{"s":"TN","x":978,"y":52.7},{"s":"TN","x":972,"y":53.1},{"s":"TN","x":968,"y":53.3},{"s":"TN","x":960,"y":52.8},{"s":"TN","x":955,"y":52.3},{"s":"TN","x":949,"y":52.1},{"s":"TN","x":943,"y":53.3},{"s":"TN","x":935,"y":56.0},{"s":"TN","x":927,"y":56.5},{"s":"TN","x":920,"y":56.1},{"s":"TN","x":914,"y":54.3},{"s":"TN","x":910,"y":52.9},{"s":"TN","x":905,"y":52.7},{"s":"TN","x":900,"y":53.2},
{"s":"TS","x":1200,"y":61.0},{"s":"TS","x":1190,"y":59.6},{"s":"TS","x":1180,"y":59.0},{"s":"TS","x":1173,"y":58.4},{"s":"TS","x":1165,"y":62.0},{"s":"TS","x":1158,"y":71.0},{"s":"TS","x":1151.5,"y":76.7},{"s":"TS","x":1145,"y":72.0},{"s":"TS","x":1140,"y":65.0},{"s":"TS","x":1135,"y":60.1},{"s":"TS","x":1130,"y":62.5},{"s":"TS","x":1124.8,"y":66.7},{"s":"TS","x":1120,"y":65.0},{"s":"TS","x":1115.6,"y":62.4},{"s":"TS","x":1110,"y":65.5},{"s":"TS","x":1105,"y":69.0},{"s":"TS","x":1098,"y":66.0},{"s":"TS","x":1092,"y":60.3},{"s":"TS","x":1086,"y":68.0},{"s":"TS","x":1081,"y":81.0},{"s":"TS","x":1078,"y":86.4},{"s":"TS","x":1074,"y":81.0},{"s":"TS","x":1070,"y":65.0},{"s":"TS","x":1065.3,"y":53.5},{"s":"TS","x":1060,"y":62.0},{"s":"TS","x":1055,"y":73.0},{"s":"TS","x":1046.8,"y":79.3},{"s":"TS","x":1040,"y":75.0},{"s":"TS","x":1034,"y":69.3},{"s":"TS","x":1028,"y":79.0},{"s":"TS","x":1022,"y":89.0},{"s":"TS","x":1015.6,"y":94.6},{"s":"TS","x":1011,"y":92.0},{"s":"TS","x":1006.8,"y":88.3},{"s":"TS","x":1002,"y":90.5},{"s":"TS","x":998.6,"y":92.5},{"s":"TS","x":994,"y":89.0},{"s":"TS","x":990,"y":81.0},{"s":"TS","x":986,"y":71.0},{"s":"TS","x":982,"y":64.0},{"s":"TS","x":978,"y":62.4},{"s":"TS","x":972,"y":62.8},{"s":"TS","x":968,"y":63.0},{"s":"TS","x":960,"y":62.5},{"s":"TS","x":955,"y":62.0},{"s":"TS","x":949,"y":61.8},{"s":"TS","x":943,"y":63.0},{"s":"TS","x":935,"y":65.7},{"s":"TS","x":927,"y":66.2},{"s":"TS","x":920,"y":65.8},{"s":"TS","x":914,"y":64.0},{"s":"TS","x":910,"y":62.6},{"s":"TS","x":905,"y":62.4},{"s":"TS","x":900,"y":62.9}
],
"labC": [
{"t":"TQ-SDS","x":929.1,"y":68.5},{"t":"TQ-native","x":931.5,"y":58.7},{"t":"WX-SDS","x":928,"y":48.8},{"t":"WX-native","x":933,"y":39.0},{"t":"GLXN-SDS","x":935,"y":29.1},{"t":"GLXN-native","x":940.5,"y":19.4}
],
"letters": [{"p":"A","t":"A","x":2.12,"y":1.207},{"p":"B","t":"B","x":4.1,"y":93.2},{"p":"C","t":"C","x":1191,"y":93}]
},
"vconcat": [
{
 "width": 487, "height": 354,
 "resolve": {"axis": {"x": "independent", "y": "independent"}},
 "layer": [
  {"data": {"name": "A"}, "mark": {"type": "line", "interpolate": "monotone", "strokeWidth": 1.8},
   "encoding": {
    "x": {"field": "x", "type": "quantitative", "scale": {"domain": [2, 8], "nice": false, "zero": false},
     "axis": {"orient": "bottom", "title": null, "labels": false, "tickSize": 7, "values": [2,2.1,2.2,2.3,2.4,2.5,2.6,2.7,2.8,2.9,3,3.1,3.2,3.3,3.4,3.5,3.6,3.7,3.8,3.9,4,4.1,4.2,4.3,4.4,4.5,4.6,4.7,4.8,4.9,5,5.1,5.2,5.3,5.4,5.5,5.6,5.7,5.8,5.9,6,6.1,6.2,6.3,6.4,6.5,6.6,6.7,6.8,6.9,7,7.1,7.2,7.3,7.4,7.5,7.6,7.7,7.8,7.9,8]}},
    "y": {"field": "y", "type": "quantitative", "scale": {"domain": [0, 1.3], "nice": false},
     "axis": {"orient": "left", "title": null, "labels": false, "tickSize": 7, "values": [0,0.1,0.2,0.3,0.4,0.5,0.6,0.7,0.8,0.9,1,1.1,1.2,1.3]}},
    "color": {"field": "s", "type": "nominal", "scale": {"domain": ["TS","TN","WS","WN","GS","GN"], "range": ["#9c9c1c","#ff00ff","#128a8a","#0000ff","#ff0000","#000000"]}, "legend": null}
   }},
  {"data": {"name": "legA"}, "mark": {"type": "rule", "strokeWidth": 2.5},
   "encoding": {"x": {"field": "x1", "type": "quantitative", "axis": null}, "x2": {"field": "x2"}, "y": {"field": "yl", "type": "quantitative", "axis": null}, "color": {"field": "s", "type": "nominal", "legend": null}}},
  {"data": {"name": "legA"}, "mark": {"type": "text", "fontSize": 21, "align": "center", "baseline": "middle"},
   "encoding": {"x": {"field": "xt", "type": "quantitative", "axis": null}, "y": {"field": "yt", "type": "quantitative", "axis": null}, "text": {"field": "t"}}},
  {"data": {"name": "peaks"}, "mark": {"type": "text", "fontSize": 25, "align": "center", "baseline": "middle"},
   "encoding": {
    "x": {"field": "x", "type": "quantitative", "axis": {"orient": "bottom", "title": "Log MW", "domain": false, "tickSize": 14, "values": [2,3,4,5,6,7,8], "labelExpr": "format(datum.value,'d')", "labelPadding": 4, "titlePadding": 4}},
    "y": {"field": "y", "type": "quantitative", "axis": {"orient": "left", "title": "dw/dLogM", "domain": false, "tickSize": 14, "values": [0,0.2,0.4,0.6,0.8,1,1.2], "labelExpr": "datum.value==0 ? '0' : format(datum.value,'.1f')", "labelPadding": 4, "titlePadding": 10}},
    "text": {"field": "t"}}},
  {"data": {"name": "letters"}, "transform": [{"filter": "datum.p=='A'"}], "mark": {"type": "text", "fontSize": 27, "align": "left", "baseline": "middle"},
   "encoding": {"x": {"field": "x", "type": "quantitative", "axis": null}, "y": {"field": "y", "type": "quantitative", "axis": null}, "text": {"field": "t"}}}
 ]
},
{
 "width": 487, "height": 354,
 "resolve": {"axis": {"x": "independent", "y": "independent"}},
 "layer": [
  {"data": {"name": "B"}, "mark": {"type": "line", "strokeWidth": 1.7},
   "encoding": {
    "x": {"field": "x", "type": "quantitative", "scale": {"domain": [3, 40], "nice": false, "zero": false},
     "axis": {"orient": "bottom", "title": null, "labels": false, "tickSize": 7, "values": [3,4,5,6,7,8,9,10,11,12,13,14,15,16,17,18,19,20,21,22,23,24,25,26,27,28,29,30,31,32,33,34,35,36,37,38,39,40]}},
    "y": {"field": "y", "type": "quantitative", "scale": {"domain": [0, 100], "nice": false},
     "axis": {"orient": "left", "title": "Relative intensity", "labels": false, "ticks": false, "titlePadding": 9}},
    "color": {"field": "s", "type": "nominal", "scale": {"domain": ["TS","TN","WS","WN","GS","GN"], "range": ["#9c9c1c","#ff00ff","#128a8a","#0000ff","#ff0000","#000000"]}, "legend": null}
   }},
  {"data": {"name": "labB"}, "mark": {"type": "text", "fontSize": 21, "align": "center", "baseline": "middle"},
   "encoding": {
    "x": {"field": "x", "type": "quantitative", "axis": {"orient": "bottom", "title": "Diffraction angle 2θ (°)", "domain": false, "tickSize": 14, "values": [5,10,15,20,25,30,35,40], "labelExpr": "format(datum.value,'d')", "labelPadding": 4, "titlePadding": 4}},
    "y": {"field": "y", "type": "quantitative", "axis": null},
    "text": {"field": "t"}}},
  {"data": {"name": "letters"}, "transform": [{"filter": "datum.p=='B'"}], "mark": {"type": "text", "fontSize": 27, "align": "left", "baseline": "middle"},
   "encoding": {"x": {"field": "x", "type": "quantitative", "axis": null}, "y": {"field": "y", "type": "quantitative", "axis": null}, "text": {"field": "t"}}}
 ]
},
{
 "width": 487, "height": 354,
 "resolve": {"axis": {"x": "independent", "y": "independent"}},
 "layer": [
  {"data": {"name": "C"}, "mark": {"type": "line", "interpolate": "catmull-rom", "strokeWidth": 1.5},
   "encoding": {
    "x": {"field": "x", "type": "quantitative", "scale": {"domain": [900, 1200], "reverse": true, "nice": false, "zero": false},
     "axis": {"orient": "bottom", "title": null, "labels": false, "tickSize": 7, "values": [900,910,920,930,940,950,960,970,980,990,1000,1010,1020,1030,1040,1050,1060,1070,1080,1090,1100,1110,1120,1130,1140,1150,1160,1170,1180,1190,1200]}},
    "y": {"field": "y", "type": "quantitative", "scale": {"domain": [0, 100], "nice": false},
     "axis": {"orient": "left", "title": "Relative intensity", "labels": false, "ticks": false, "titlePadding": 9}},
    "color": {"field": "s", "type": "nominal", "scale": {"domain": ["TS","TN","WS","WN","GS","GN"], "range": ["#9c9c1c","#ff00ff","#128a8a","#0000ff","#ff0000","#000000"]}, "legend": null}
   }},
  {"data": {"name": "labC"}, "mark": {"type": "text", "fontSize": 21, "align": "center", "baseline": "middle"},
   "encoding": {
    "x": {"field": "x", "type": "quantitative", "axis": {"orient": "bottom", "title": "Wave number (cm⁻¹)", "domain": false, "tickSize": 14, "values": [900,950,1000,1050,1100,1150,1200], "labelExpr": "format(datum.value,'d')", "labelOffset": {"condition": {"test": "datum.value==900", "value": -6}, "value": 0}, "labelPadding": 4, "titlePadding": 3}},
    "y": {"field": "y", "type": "quantitative", "axis": null},
    "text": {"field": "t"}}},
  {"data": {"name": "letters"}, "transform": [{"filter": "datum.p=='C'"}], "mark": {"type": "text", "fontSize": 27, "align": "left", "baseline": "middle"},
   "encoding": {"x": {"field": "x", "type": "quantitative", "axis": null}, "y": {"field": "y", "type": "quantitative", "axis": null}, "text": {"field": "t"}}}
 ]
}
]
}
